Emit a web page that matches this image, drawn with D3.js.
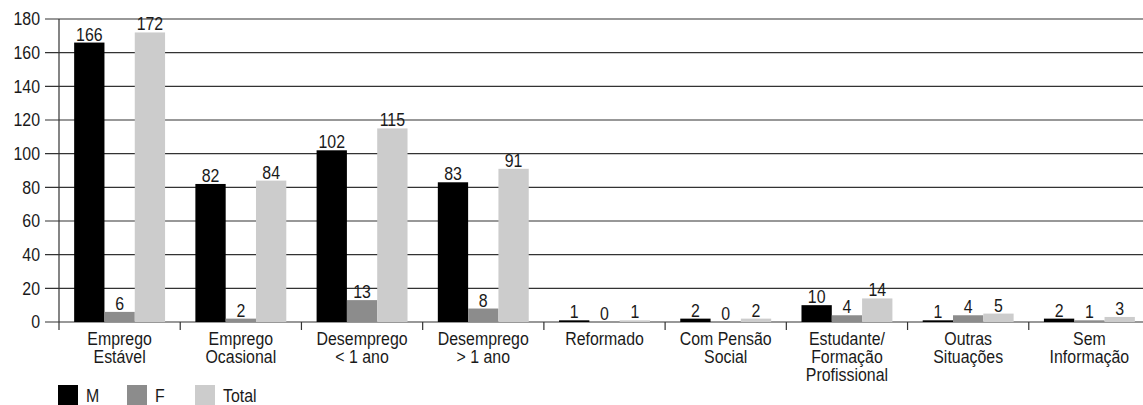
<!DOCTYPE html>
<html>
<head>
<meta charset="utf-8">
<script src="https://cdn.jsdelivr.net/npm/d3@7"></script>
<style>
  html, body { margin: 0; padding: 0; background: #fff; }
  svg text { font-family: "Liberation Sans", Arial, sans-serif; fill: #1a1a1a; }
</style>
</head>
<body>
<svg id="chart" width="1143" height="405"></svg>
<script>
// Situation categories (multi-line labels)
const categories = [
  ["Emprego", "Estável"],
  ["Emprego", "Ocasional"],
  ["Desemprego", "< 1 ano"],
  ["Desemprego", "> 1 ano"],
  ["Reformado"],
  ["Com Pensão", "Social"],
  ["Estudante/", "Formação", "Profissional"],
  ["Outras", "Situações"],
  ["Sem", "Informação"]
];
const seriesNames = ["M", "F", "Total"];
const valuesM = [166, 82, 102, 83, 1, 2, 10, 1, 2];
const valuesF = [6, 2, 13, 8, 0, 0, 4, 4, 1];
const valuesTotal = [172, 84, 115, 91, 1, 2, 14, 5, 3];
const yTicks = [0, 20, 40, 60, 80, 100, 120, 140, 160, 180];

const series = [valuesM, valuesF, valuesTotal];
const colors = ["#000000", "#8c8c8c", "#cccccc"];

const svg = d3.select("#chart");
const W = 1143;
const axisX = 59, gridStart = 45;
const FS = 18.5;      // font size
const SX = 0.86;      // horizontal condensing of the typeface

// places a condensed text at (px, py)
function cText(sel, px, py) {
  return sel.attr("transform", (d, i) => `translate(${px(d, i)},${py(d, i)}) scale(${SX},1)`);
}

const y = d3.scaleLinear().domain([0, 180]).range([322, 19]);
const x = d3.scaleBand().domain(d3.range(categories.length)).range([axisX, 1150]).padding(0);
const bw = x.bandwidth();
const barW = bw * 0.25;
const groupOffset = bw * 0.125;

// horizontal gridlines
svg.append("g").selectAll("line").data(yTicks).join("line")
  .attr("x1", gridStart).attr("x2", W)
  .attr("y1", d => y(d)).attr("y2", d => y(d))
  .attr("stroke", "#333").attr("stroke-width", 1.2);

// y tick labels
cText(svg.append("g").selectAll("text").data(yTicks).join("text")
  .attr("dy", "0.35em").attr("text-anchor", "end").attr("font-size", FS)
  .text(d => d), () => 40, d => y(d));

// vertical axis line
svg.append("line").attr("x1", axisX).attr("x2", axisX)
  .attr("y1", y(180)).attr("y2", y(0) + 8)
  .attr("stroke", "#333").attr("stroke-width", 1.2);

// category separator ticks
svg.append("g").selectAll("line").data(d3.range(1, categories.length)).join("line")
  .attr("x1", d => x(d)).attr("x2", d => x(d))
  .attr("y1", y(0)).attr("y2", y(0) + 8)
  .attr("stroke", "#333").attr("stroke-width", 1.2);

// bars and value labels
series.forEach((vals, si) => {
  const g = svg.append("g");
  g.selectAll("rect").data(vals).join("rect")
    .attr("x", (d, i) => x(i) + groupOffset + si * barW)
    .attr("y", d => y(d))
    .attr("width", barW)
    .attr("height", d => y(0) - y(d))
    .attr("fill", colors[si]);
  cText(g.selectAll("text").data(vals).join("text")
    .attr("text-anchor", "middle").attr("font-size", FS)
    .text(d => d),
    (d, i) => x(i) + groupOffset + si * barW + barW / 2,
    d => y(d) - 2);
});

// category labels, one text per line
const catLines = categories.flatMap((lines, i) =>
  lines.map((t, j) => ({ t, i, j })));
cText(svg.append("g").selectAll("text").data(catLines).join("text")
  .attr("text-anchor", "middle").attr("font-size", FS)
  .text(d => d.t),
  d => x(d.i) + bw / 2,
  d => 345 + d.j * 18);

// legend
const legendX = [58, 127, 195];
const leg = svg.append("g").selectAll("g").data(seriesNames).join("g")
  .attr("transform", (d, i) => `translate(${legendX[i]},385)`);
leg.append("rect").attr("width", 20).attr("height", 20).attr("fill", (d, i) => colors[i]);
leg.append("text").attr("transform", `translate(28,17) scale(${SX},1)`)
  .attr("font-size", FS).text(d => d);
</script>
</body>
</html>
